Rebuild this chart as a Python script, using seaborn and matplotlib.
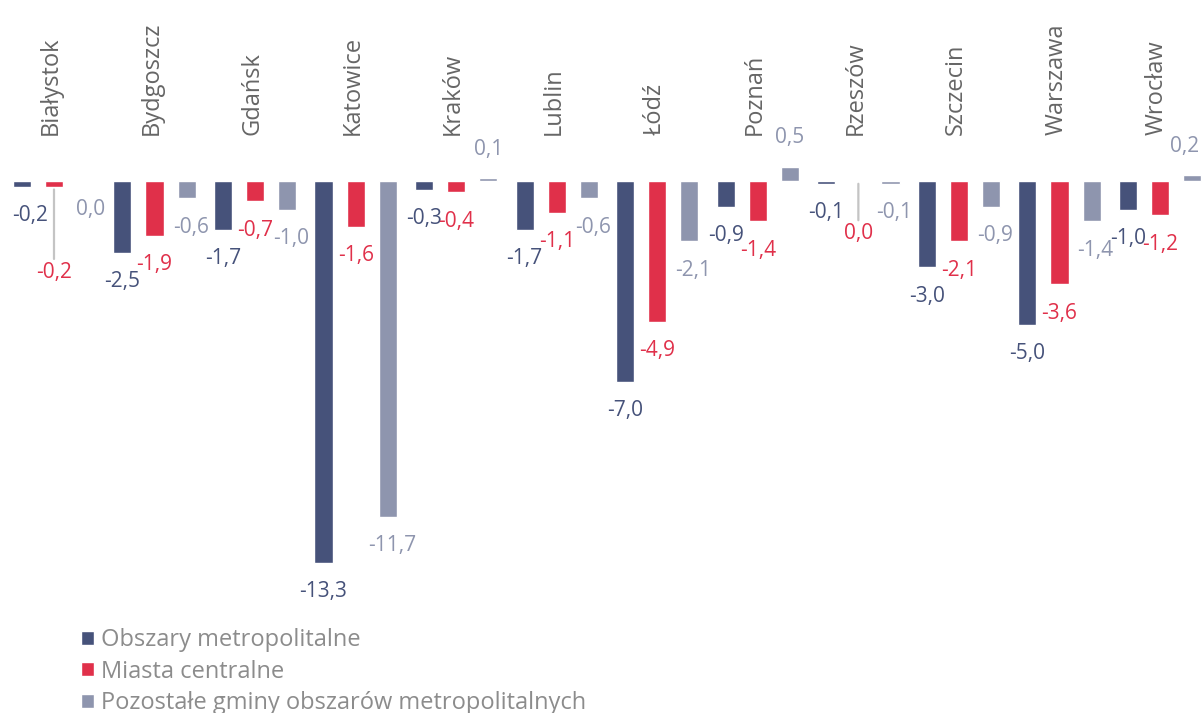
import matplotlib
matplotlib.use('Agg')
import matplotlib.pyplot as plt
import matplotlib.transforms as mtransforms
import pandas as pd
import seaborn as sns

cities = ['Białystok', 'Bydgoszcz', 'Gdańsk', 'Katowice', 'Kraków', 'Lublin',
          'Łódź', 'Poznań', 'Rzeszów', 'Szczecin', 'Warszawa', 'Wrocław']
series_names = ['Obszary metropolitalne', 'Miasta centralne',
                'Pozostałe gminy obszarów metropolitalnych']
metro = [-0.2, -2.5, -1.7, -13.3, -0.3, -1.7, -7.0, -0.9, -0.1, -3.0, -5.0, -1.0]
central = [-0.2, -1.9, -0.7, -1.6, -0.4, -1.1, -4.9, -1.4, 0.0, -2.1, -3.6, -1.2]
other = [0.0, -0.6, -1.0, -11.7, 0.1, -0.6, -2.1, 0.5, -0.1, -0.9, -1.4, 0.2]

colors = ['#46527a', '#e0304a', '#8e95ae']

# labels pulled away from their bar (thin leader line), distance in px
leader_px = {('Białystok', 1): 86, ('Rzeszów', 1): 53}
# sideways nudges of a few labels, px
nudge_px = {('Białystok', 0): 8, ('Wrocław', 2): -8}

series_vals = [metro, central, other]
df = pd.DataFrame({
    'miasto': cities * 3,
    'seria': [s for s in series_names for _ in cities],
    'wartosc': metro + central + other,
})

sns.set_style('white')
plt.rcParams['font.family'] = ['Open Sans', 'DejaVu Sans']

W, H = 1204, 713
fig = plt.figure(figsize=(W / 100, H / 100), dpi=100)
ax = fig.add_axes([0, 0, 1, 1])

sns.barplot(data=df, x='miasto', y='wartosc', hue='seria', palette=colors,
            saturation=1, width=0.96, gap=0.4375, errorbar=None, ax=ax)

px_x = 100.55
px_y = 28.7
zero_px = 181
ax.set_xlim(-54 / px_x, 11 + (W - 1160) / px_x)
ax.set_ylim(-(H - zero_px) / px_y, zero_px / px_y)
ax.set_axis_off()

pt = 72 / 100
for k, cont in enumerate(ax.containers):
    for bar, v, city in zip(cont, series_vals[k], cities):
        x = bar.get_x() + bar.get_width() / 2
        off = leader_px.get((city, k), 29)
        dy = off if v > 0 else -off
        dx = 4 if (k == 2 and v <= 0) else 0
        dx = nudge_px.get((city, k), dx)
        txt = f'{v:.1f}'.replace('.', ',')
        arrow = None
        if (city, k) in leader_px:
            arrow = dict(arrowstyle='-', color='#c4c4c4', lw=1.6, shrinkA=0, shrinkB=2)
        ax.annotate(txt, xy=(x, v), xytext=(dx * pt, dy * pt), textcoords='offset points',
                    ha='center', va='center', fontsize=15, color=colors[k],
                    arrowprops=arrow)

trans = mtransforms.blended_transform_factory(ax.transData, ax.transAxes)
for i, city in enumerate(cities):
    ax.text(i - 0.03, 1 - 135 / H, city, transform=trans, rotation=90,
            ha='center', va='bottom', fontsize=17, color='#666666')

sns.move_legend(ax, 'upper left', bbox_to_anchor=(81 / W, 1 - 628 / H), frameon=False,
                title=None, fontsize=17, handlelength=0.55, handleheight=0.55,
                handletextpad=0.3, labelspacing=0.32, borderpad=0, borderaxespad=0)
for t in ax.get_legend().get_texts():
    t.set_color('#8c8c8c')

fig.savefig('out.png', dpi=100)
